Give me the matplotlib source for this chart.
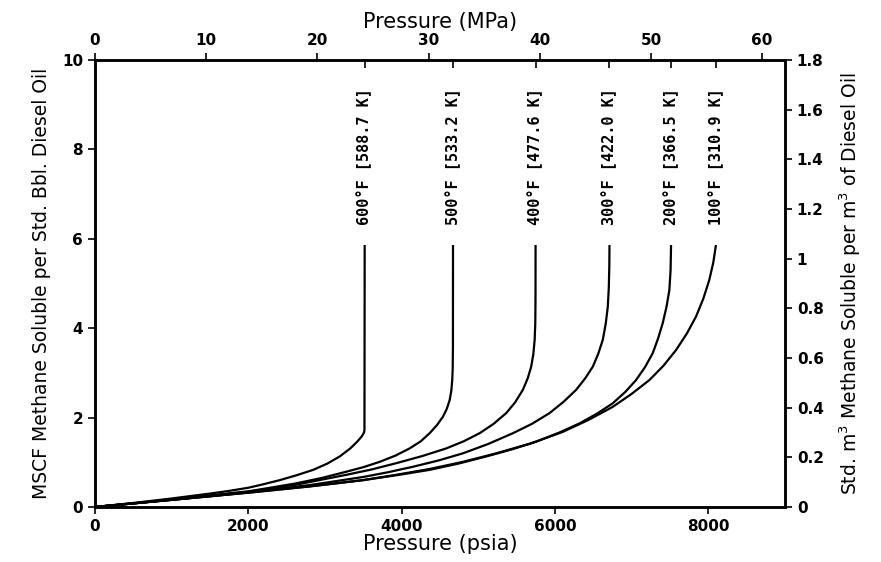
import numpy as np
import matplotlib.pyplot as plt
from matplotlib.ticker import FixedLocator

# Curvas de solubilidad de metano en diesel
temps_f = [600, 500, 400, 300, 200, 100]
temps_k = ['588.7', '533.2', '477.6', '422.0', '366.5', '310.9']

p600 = [0, 250, 500, 750, 1000, 1250, 1500, 1750, 2000, 2200, 2410, 2630, 2845, 3030,
        3192, 3330, 3420, 3480, 3508, 3515, 3518]
s600 = [0, 0.045, 0.09, 0.14, 0.19, 0.245, 0.30, 0.36, 0.43, 0.51, 0.60, 0.71, 0.83, 0.97,
        1.13, 1.31, 1.46, 1.58, 1.66, 1.72, 5.86]

p500 = [0, 500, 1000, 1500, 2000, 2320, 2628, 2960, 3280, 3500, 3714, 3920, 4104, 4250,
        4365, 4460, 4539, 4590, 4626, 4648, 4660, 4666, 4669, 4670]
s500 = [0, 0.08, 0.17, 0.26, 0.35, 0.44, 0.53, 0.65, 0.79, 0.89, 1.01, 1.15, 1.31, 1.47,
        1.65, 1.83, 2.02, 2.20, 2.39, 2.60, 2.84, 3.1, 3.6, 5.86]

p400 = [0, 500, 1000, 1500, 2000, 2628, 3280, 3610, 3931, 4270, 4582, 4810, 5017, 5200,
        5364, 5480, 5581, 5645, 5690, 5718, 5735, 5743, 5746, 5747]
s400 = [0, 0.08, 0.16, 0.25, 0.34, 0.50, 0.72, 0.84, 0.98, 1.14, 1.31, 1.47, 1.65, 1.86,
        2.10, 2.34, 2.62, 2.88, 3.14, 3.42, 3.74, 4.1, 4.6, 5.86]

p300 = [0, 500, 1000, 1500, 2000, 2800, 3496, 3830, 4148, 4480, 4799, 5130, 5451, 5700,
        5929, 6110, 6276, 6395, 6494, 6565, 6624, 6662, 6689, 6702, 6709, 6711]
s300 = [0, 0.08, 0.16, 0.24, 0.33, 0.49, 0.67, 0.78, 0.90, 1.04, 1.20, 1.41, 1.65, 1.86,
        2.10, 2.35, 2.62, 2.88, 3.14, 3.43, 3.74, 4.1, 4.48, 4.9, 5.4, 5.86]

p200 = [0, 500, 1000, 1500, 2000, 2800, 3496, 3930, 4365, 4740, 5103, 5440, 5755, 6050,
        6320, 6550, 6754, 6915, 7058, 7175, 7275, 7345, 7405, 7455, 7492, 7508, 7514]
s200 = [0, 0.08, 0.16, 0.24, 0.32, 0.46, 0.60, 0.71, 0.83, 0.97, 1.13, 1.29, 1.46, 1.66,
        1.87, 2.09, 2.32, 2.57, 2.84, 3.13, 3.44, 3.77, 4.11, 4.48, 4.85, 5.3, 5.86]

p100 = [0, 500, 1000, 1500, 2000, 2800, 3496, 3930, 4365, 4800, 5234, 5680, 6102, 6440,
        6754, 7000, 7232, 7415, 7579, 7720, 7840, 7935, 8013, 8065, 8100]
s100 = [0, 0.08, 0.16, 0.24, 0.32, 0.46, 0.60, 0.72, 0.85, 1.01, 1.20, 1.42, 1.68, 1.95,
        2.24, 2.53, 2.84, 3.16, 3.51, 3.88, 4.26, 4.66, 5.08, 5.47, 5.86]

presiones = [p600, p500, p400, p300, p200, p100]
solub = [s600, s500, s400, s300, s200, s100]

psi_ticks = [0, 2000, 4000, 6000, 8000]
mpa_ticks = [0, 10, 20, 30, 40, 50, 60]
izq_ticks = [0, 2, 4, 6, 8, 10]
der_ticks = [0, 0.2, 0.4, 0.6, 0.8, 1, 1.2, 1.4, 1.6, 1.8]
der_labels = ['0', '0.2', '0.4', '0.6', '0.8', '1', '1.2', '1.4', '1.6', '1.8']

PSI_A_MPA = 0.00689476

fig = plt.figure(figsize=(8.81, 5.62), dpi=100)
ax = fig.add_axes([0.1078, 0.0979, 0.7832, 0.7954])

for p, s in zip(presiones, solub):
    ax.plot(p, s, color='black', lw=1.6, solid_capstyle='butt', solid_joinstyle='round')

# etiquetas verticales de cada curva
for p, tf, tk in zip(presiones, temps_f, temps_k):
    ax.text(p[-1], 7.85, f'{tf}°F [{tk} K]', rotation=90, ha='center', va='center',
            family='DejaVu Sans Mono', fontsize=11, fontweight='bold')

ax.set_xlim(0, 9000)
ax.set_ylim(0, 10)
ax.set_xticks(psi_ticks)
ax.set_yticks(izq_ticks)
ax.xaxis.set_minor_locator(FixedLocator([p[-1] for p in presiones]))
ax.tick_params(which='major', direction='out', length=5, width=1.2,
               labelsize=11, top=False)
ax.tick_params(which='minor', bottom=False, top=True, direction='in', length=6, width=1.2)
for lab in ax.get_xticklabels() + ax.get_yticklabels():
    lab.set_fontweight('bold')
for sp in ax.spines.values():
    sp.set_linewidth(1.8)

ax.set_xlabel('Pressure (psia)', fontsize=15, labelpad=0)
ax.set_ylabel('MSCF Methane Soluble per Std. Bbl. Diesel Oil', fontsize=13.5, labelpad=8)

# eje superior en MPa
sec = ax.secondary_xaxis('top', functions=(lambda x: x * PSI_A_MPA, lambda x: x / PSI_A_MPA))
sec.set_xticks(mpa_ticks)
sec.tick_params(direction='out', length=5, width=1.2, labelsize=11)
for lab in sec.get_xticklabels():
    lab.set_fontweight('bold')
sec.set_xlabel('Pressure (MPa)', fontsize=15, labelpad=4)

# eje derecho en m3/m3
ax2 = ax.twinx()
ax2.set_ylim(0, 1.8)
ax2.set_yticks(der_ticks)
ax2.set_yticklabels(der_labels, fontweight='bold')
ax2.tick_params(direction='out', length=5, width=1.2, labelsize=11)
ax2.set_ylabel('Std. m$^3$ Methane Soluble per m$^3$ of Diesel Oil', fontsize=13.5, labelpad=10)
for sp in ax2.spines.values():
    sp.set_linewidth(1.8)

fig.savefig('out.png', dpi=100)
